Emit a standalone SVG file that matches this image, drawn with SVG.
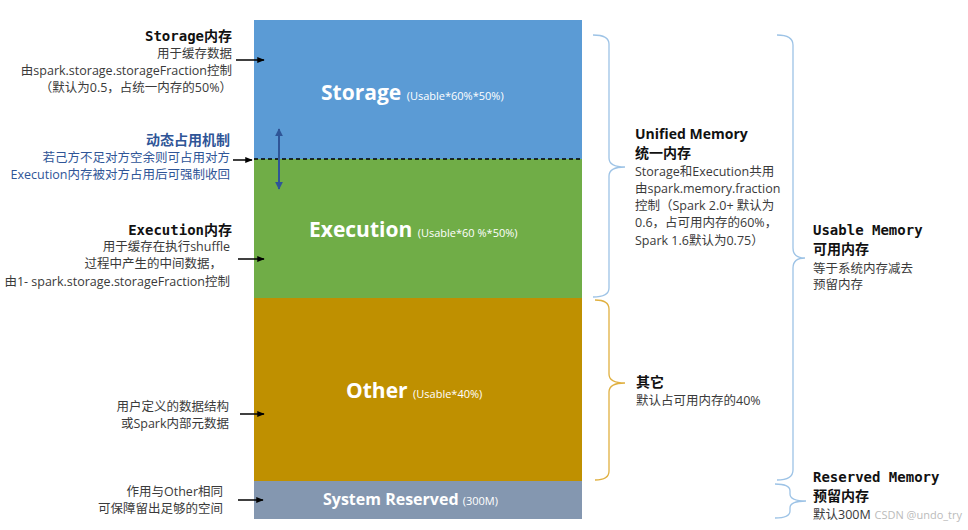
<svg xmlns="http://www.w3.org/2000/svg" width="968" height="530" viewBox="0 0 968 530">
<defs>
<marker id="ah" viewBox="0 0 10 10" refX="9" refY="5" markerWidth="5" markerHeight="5" orient="auto-start-reverse"><path d="M0,1 L10,5 L0,9 z" fill="#000"/></marker>
<marker id="ahb" viewBox="0 0 10 10" refX="9" refY="5" markerWidth="4" markerHeight="4" orient="auto-start-reverse"><path d="M0,0 L10,5 L0,10 z" fill="#2F5597"/></marker>
<style>
.t{font-family:"Open Sans","Noto Sans","Noto Sans CJK SC",sans-serif;font-size:12.5px;fill:#3a3a3a}
.h{font-family:"DejaVu Sans Mono","Noto Sans CJK SC",monospace;font-size:14px;font-weight:bold;fill:#111}
.hs{font-family:"Open Sans","Noto Sans CJK SC",sans-serif;font-size:14px;font-weight:bold;fill:#111}
.bl{font-family:"Open Sans","Noto Sans",sans-serif;font-weight:bold;fill:#fff}
.sm{font-family:"Open Sans","Noto Sans",sans-serif;font-size:11px;font-weight:normal;fill:#fff}
.blue{fill:#2F5597}
.r{text-anchor:end}
.ar{stroke:#000;stroke-width:1.5;fill:none;marker-end:url(#ah)}
.br{fill:none;stroke-width:1.3}
</style>
</defs>
<rect width="968" height="530" fill="#fff"/>

<g id="storage">
<rect x="254" y="20" width="328" height="139" fill="#5B9BD5"/>
<text x="321" y="100" class="bl" font-size="21">Storage <tspan class="sm">(Usable*60%*50%)</tspan></text>
</g>
<g id="execution">
<rect x="254" y="159" width="328" height="139" fill="#70AD47"/>
<text x="309" y="237" class="bl" font-size="21">Execution <tspan class="sm">(Usable*60 %*50%)</tspan></text>
</g>
<g id="other">
<rect x="254" y="298" width="328" height="183" fill="#BF9000"/>
<text x="346" y="398" class="bl" font-size="21">Other <tspan class="sm">(Usable*40%)</tspan></text>
</g>
<g id="system-reserved">
<rect x="254" y="481" width="328" height="38" fill="#8497B0"/>
<text x="323" y="505" class="bl" font-size="16">System Reserved <tspan class="sm">(300M)</tspan></text>
</g>

<g id="label-storage">
<text x="232" y="41" class="h r">Storage内存</text>
<text x="232" y="58" class="t r">用于缓存数据</text>
<text x="232" y="75" class="t r">由spark.storage.storageFraction控制</text>
<text x="232" y="92" class="t r">（默认为0.5，占统一内存的50%）</text>
</g>
<g id="label-dynamic">
<text x="230" y="145" class="hs r blue">动态占用机制</text>
<text x="230" y="162" class="t r blue">若己方不足对方空余则可占用对方</text>
<text x="230" y="179" class="t r blue">Execution内存被对方占用后可强制收回</text>
</g>
<g id="label-execution">
<text x="232" y="235" class="h r">Execution内存</text>
<text x="230" y="251" class="t r">用于缓存在执行shuffle</text>
<text x="222" y="268" class="t r">过程中产生的中间数据，</text>
<text x="230" y="286" class="t r">由1- spark.storage.storageFraction控制</text>
</g>
<g id="label-other">
<text x="229" y="411" class="t r">用户定义的数据结构</text>
<text x="229" y="428" class="t r">或Spark内部元数据</text>
</g>
<g id="label-system">
<text x="223" y="496" class="t r">作用与Other相同</text>
<text x="223" y="513" class="t r">可保障留出足够的空间</text>
</g>

<g id="label-unified">
<text x="635" y="139" class="hs">Unified Memory</text>
<text x="635" y="158" class="hs">统一内存</text>
<text x="635" y="176" class="t">Storage和Execution共用</text>
<text x="635" y="193" class="t">由spark.memory.fraction</text>
<text x="635" y="210" class="t">控制（Spark 2.0+ 默认为</text>
<text x="635" y="227" class="t">0.6，占可用内存的60%，</text>
<text x="635" y="245" class="t">Spark 1.6默认为0.75）</text>
</g>
<g id="label-usable">
<text x="813" y="235" class="h">Usable Memory</text>
<text x="813" y="254" class="hs">可用内存</text>
<text x="813" y="273" class="t">等于系统内存减去</text>
<text x="813" y="289" class="t">预留内存</text>
</g>
<g id="label-other-right">
<text x="636" y="387" class="hs">其它</text>
<text x="636" y="405" class="t">默认占可用内存的40%</text>
</g>
<g id="label-reserved">
<text x="813" y="482" class="h">Reserved Memory</text>
<text x="813" y="501" class="hs">预留内存</text>
<text x="813" y="519" class="t">默认300M</text>
</g>

<g id="connectors">
<line x1="236" y1="60" x2="264" y2="60" class="ar"/>
<line x1="233" y1="160" x2="252" y2="160" class="ar"/>
<line x1="238" y1="259" x2="264" y2="259" class="ar"/>
<line x1="240" y1="414" x2="264" y2="414" class="ar"/>
<line x1="238" y1="500" x2="263" y2="500" class="ar"/>
<line x1="254" y1="159" x2="582" y2="159" stroke="#000" stroke-width="1.5" stroke-dasharray="4,3"/>
<line x1="279" y1="129" x2="279" y2="189" stroke="#2F5597" stroke-width="2" marker-start="url(#ahb)" marker-end="url(#ahb)"/>
<path class="br" stroke="#9DC3E6" d="M593,35 Q609,35 609,44 L609,158 Q609,167 625,167 Q609,167 609,176 L609,288 Q609,297 593,297"/>
<path class="br" stroke="#9DC3E6" d="M777,35 Q793,35 793,45 L793,248 Q793,258 805,258 Q793,258 793,268 L793,470 Q793,480 777,480"/>
<path class="br" stroke="#E0B040" d="M595,300 Q609,300 609,309 L609,374 Q609,383 625,383 Q609,383 609,392 L609,471 Q609,480 595,480"/>
<path class="br" stroke="#9DC3E6" d="M775,484 Q790,484 790,491 L790,494 Q790,501 806,501 Q790,501 790,508 L790,511 Q790,518 775,518"/>
</g>
<text x="962" y="519" font-family="Open Sans,Noto Sans,sans-serif" font-size="11" fill="#bbb" text-anchor="end">CSDN @undo_try</text>
</svg>
